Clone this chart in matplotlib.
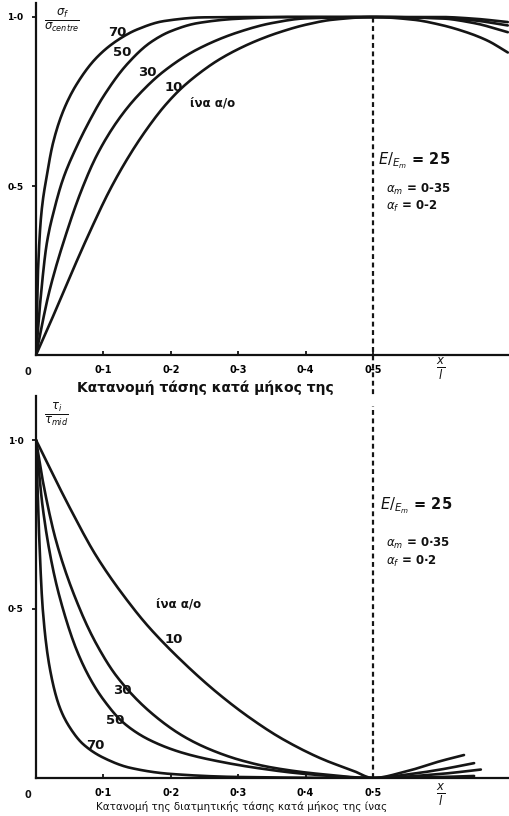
import matplotlib
matplotlib.use("Agg")
import matplotlib.pyplot as plt
import numpy as np

plt.rcParams['font.family'] = ['DejaVu Sans']

# ---- tensile stress along the fibre (sigma_f / sigma_centre vs x/l) ----
aspect_labels = ["70", "50", "30", "10"]

top_x70 = [0, 0.003, 0.008, 0.016, 0.025, 0.04, 0.06, 0.09, 0.12, 0.15, 0.19, 0.25, 0.35, 0.5, 0.6, 0.65, 0.7]
top_y70 = [0, 0.25, 0.42, 0.53, 0.625, 0.72, 0.80, 0.88, 0.93, 0.963, 0.988, 0.999, 1.0, 1.0, 1.0, 0.995, 0.985]

top_x50 = [0, 0.006, 0.016, 0.027, 0.04, 0.06, 0.08, 0.1, 0.135, 0.17, 0.2, 0.24, 0.3, 0.38, 0.5, 0.6, 0.65, 0.7]
top_y50 = [0, 0.15, 0.33, 0.43, 0.52, 0.615, 0.695, 0.765, 0.86, 0.925, 0.958, 0.982, 0.995, 1.0, 1.0, 0.997,
           0.99, 0.975]

top_x30 = [0, 0.01, 0.02, 0.045, 0.068, 0.09, 0.12, 0.15, 0.19, 0.24, 0.3, 0.35, 0.4, 0.5, 0.6, 0.65, 0.7]
top_y30 = [0, 0.10, 0.19, 0.36, 0.49, 0.59, 0.69, 0.765, 0.84, 0.905, 0.955, 0.982, 0.996, 1.0, 0.996, 0.982, 0.955]

top_x10 = [0, 0.02, 0.05, 0.08, 0.11, 0.14, 0.165, 0.19, 0.214, 0.24, 0.27, 0.3, 0.33, 0.36, 0.4, 0.44, 0.5,
           0.56, 0.6, 0.64, 0.67, 0.7]
top_y10 = [0, 0.09, 0.23, 0.365, 0.49, 0.595, 0.67, 0.735, 0.786, 0.83, 0.872, 0.905, 0.932, 0.954, 0.977, 0.992,
           1.0, 0.992, 0.977, 0.954, 0.93, 0.895]

# ---- shear stress along the fibre (tau_i / tau_mid vs x/l) ----
bot_x70 = [0, 0.004, 0.01, 0.02, 0.035, 0.05, 0.07, 0.1, 0.14, 0.2, 0.3, 0.5, 0.6, 0.65]
bot_y70 = [1.0, 0.75, 0.5, 0.33, 0.21, 0.15, 0.10, 0.06, 0.03, 0.012, 0.003, 0.0, 0.003, 0.006]

bot_x50 = [0, 0.01, 0.025, 0.04, 0.06, 0.08, 0.1, 0.13, 0.169, 0.22, 0.269, 0.33, 0.4, 0.5, 0.6, 0.66]
bot_y50 = [1.0, 0.8, 0.62, 0.5, 0.38, 0.295, 0.232, 0.163, 0.112, 0.073, 0.05, 0.029, 0.012, 0.0, 0.012, 0.025]

bot_x30 = [0, 0.01, 0.03, 0.065, 0.09, 0.12, 0.169, 0.22, 0.26, 0.303, 0.35, 0.42, 0.5, 0.55, 0.6, 0.65]
bot_y30 = [1.0, 0.88, 0.70, 0.5, 0.395, 0.30, 0.196, 0.122, 0.083, 0.053, 0.031, 0.012, 0.0, 0.01, 0.025, 0.044]

bot_x10 = [0, 0.05, 0.09, 0.144, 0.169, 0.218, 0.269, 0.318, 0.366, 0.426, 0.47, 0.5, 0.55, 0.6, 0.635]
bot_y10 = [1.0, 0.80, 0.655, 0.503, 0.443, 0.343, 0.252, 0.177, 0.115, 0.055, 0.022, 0.0, 0.02, 0.05, 0.068]

x_ticks = [0.1, 0.2, 0.3, 0.4, 0.5]
top_tick_labels = ["0-1", "0-2", "0-3", "0-4", "0-5"]
bot_tick_labels = ["0·1", "0·2", "0·3", "0·4", "0·5"]


def smooth_path(xs, ys, n=12):
    """Monotone (Fritsch-Carlson) cubic through the given points, for drawing."""
    x = np.asarray(xs, float)
    y = np.asarray(ys, float)
    h = np.diff(x)
    d = np.diff(y) / h
    m = np.zeros_like(y)
    m[0], m[-1] = d[0], d[-1]
    for i in range(1, len(x) - 1):
        if d[i - 1] * d[i] <= 0:
            m[i] = 0.0
        else:
            w1 = 2 * h[i] + h[i - 1]
            w2 = h[i] + 2 * h[i - 1]
            m[i] = (w1 + w2) / (w1 / d[i - 1] + w2 / d[i])
    px, py = [], []
    for i in range(len(x) - 1):
        t = np.linspace(0, 1, n, endpoint=(i == len(x) - 2))
        h00 = 2 * t**3 - 3 * t**2 + 1
        h10 = t**3 - 2 * t**2 + t
        h01 = -2 * t**3 + 3 * t**2
        h11 = t**3 - t**2
        px.append(x[i] + t * h[i])
        py.append(h00 * y[i] + h10 * h[i] * m[i] + h01 * y[i + 1] + h11 * h[i] * m[i + 1])
    return np.concatenate(px), np.concatenate(py)


W, H = 510, 816
fig = plt.figure(figsize=(W / 100, H / 100), dpi=100)

x_max = 474 / 674
ax1 = fig.add_axes([36 / W, 1 - 355 / H, 474 / W, (355 - 3) / H])
ax2 = fig.add_axes([36 / W, 1 - 778 / H, 474 / W, (778 - 396) / H])
ax1.set_ylim(0, (355 - 3) / 338)
ax2.set_ylim(0, (778 - 396) / 338)

for ax in (ax1, ax2):
    ax.set_xlim(0, x_max)
    for s in ("top", "right"):
        ax.spines[s].set_visible(False)
    for s in ("left", "bottom"):
        ax.spines[s].set_linewidth(1.6)
        ax.spines[s].set_color("#111111")
    ax.set_yticks([0.5, 1.0])
    ax.tick_params(axis="x", direction="in", length=3, width=1.2, pad=7, labelsize=7)
    ax.tick_params(axis="y", direction="out", length=3, width=1.2, pad=6, labelsize=7)

line_kw = dict(color="#151515", lw=1.9, solid_capstyle="round", solid_joinstyle="round")
for xs, ys in ((top_x70, top_y70), (top_x50, top_y50), (top_x30, top_y30), (top_x10, top_y10)):
    ax1.plot(*smooth_path(xs, ys), **line_kw)
for xs, ys in ((bot_x70, bot_y70), (bot_x50, bot_y50), (bot_x30, bot_y30), (bot_x10, bot_y10)):
    ax2.plot(*smooth_path(xs, ys), **line_kw)

dash_kw = dict(color="#151515", lw=1.6, ls=(0, (2.2, 1.6)), clip_on=False)
ax1.plot([0.5, 0.5], [-0.165, 1.0], **dash_kw)
ax2.plot([0.5, 0.5], [0, 1.1], **dash_kw)

ax1.set_xticks(x_ticks, top_tick_labels, fontweight="bold")
ax2.set_xticks(x_ticks, bot_tick_labels, fontweight="bold")
ax1.set_yticklabels(["0-5", "1-0"], fontweight="bold", fontsize=6.5)
ax2.set_yticklabels(["0·5", "1·0"], fontweight="bold", fontsize=6.5)

txt = dict(color="#111111", fontweight="bold")
for ax in (ax1, ax2):
    ax.text(-0.012, -0.05, "0", ha="center", va="center", fontsize=7, **txt)
    ax.text(0.6, -0.05 if ax is ax2 else -0.04, r"$\frac{x}{l}$", ha="center", va="center",
            fontsize=12, color="#111111")

# curve labels, upper panel
top_label_pos = [(0.12, 0.955), (0.128, 0.895), (0.165, 0.835), (0.205, 0.79)]
for lab, (x, y) in zip(aspect_labels, top_label_pos):
    ax1.text(x, y, lab, ha="center", va="center", fontsize=9.5, **txt)
ax1.text(0.228, 0.745, "ίνα α/ο", ha="left", va="center", fontsize=8.5, **txt)

# curve labels, lower panel
bot_label_pos = [(0.088, 0.096), (0.117, 0.17), (0.128, 0.26), (0.205, 0.41)]
for lab, (x, y) in zip(aspect_labels, bot_label_pos):
    ax2.text(x, y, lab, ha="center", va="center", fontsize=9.5, **txt)
ax2.text(0.178, 0.515, "ίνα α/ο", ha="left", va="center", fontsize=8.5, **txt)

# material parameters
ratio = r"$E/_{E_m}$ = 25"
ax1.text(0.507, 0.575, ratio, ha="left", va="center", fontsize=10.5, **txt)
ax1.text(0.52, 0.49, r"$\alpha_m$ = 0-35", ha="left", va="center", fontsize=8.5, **txt)
ax1.text(0.52, 0.44, r"$\alpha_f$ = 0-2", ha="left", va="center", fontsize=8.5, **txt)
ax2.text(0.51, 0.805, ratio, ha="left", va="center", fontsize=10.5, **txt)
ax2.text(0.52, 0.695, r"$\alpha_m$ = 0·35", ha="left", va="center", fontsize=8.5, **txt)
ax2.text(0.52, 0.64, r"$\alpha_f$ = 0·2", ha="left", va="center", fontsize=8.5, **txt)

# axis titles
fig.text(44 / W, 1 - 20 / H, r"$\frac{\sigma_f}{\sigma_{centre}}$", ha="left", va="center",
         fontsize=12, color="#111111")
fig.text(44 / W, 1 - 414 / H, r"$\frac{\tau_i}{\tau_{mid}}$", ha="left", va="center",
         fontsize=12, color="#111111")
fig.text(205 / W, 1 - 388 / H, "Κατανομή τάσης κατά μήκος της", ha="center", va="center",
         fontsize=10, **txt)
fig.text(242 / W, 1 - 806 / H, "Κατανομή της διατμητικής τάσης κατά μήκος της ίνας",
         ha="center", va="center", fontsize=7.5, color="#111111")

fig.savefig("out.png", dpi=100, facecolor="white")
